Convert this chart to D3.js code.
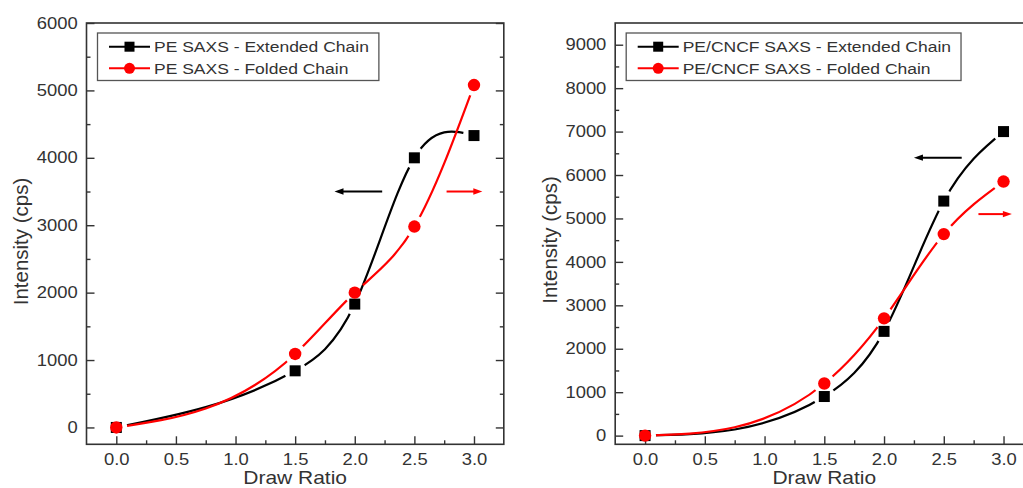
<!DOCTYPE html>
<html>
<head>
<meta charset="utf-8">
<script src="https://cdn.jsdelivr.net/npm/d3@7"></script>
<style>
  body { margin: 0; background: #fff; }
  text { font-family: "Liberation Sans", Arial, sans-serif; fill: #333; }
</style>
</head>
<body>
<svg id="chart" width="1023" height="488"></svg>
<script>
// ---- data ----
const drawRatio = [0, 1.5, 2.0, 2.5, 3.0];

const peExtended = [0, 840, 1830, 4000, 4330];
const peFolded   = [0, 1090, 2000, 2980, 5080];

const cncfExtended = [0, 900, 2400, 5400, 7000];
const cncfFolded   = [0, 1200, 2700, 4640, 5850];

const xTicks      = [0, 0.5, 1.0, 1.5, 2.0, 2.5, 3.0];
const xMinorTicks = [0.25, 0.75, 1.25, 1.75, 2.25, 2.75];
const peYTicks    = [0, 1000, 2000, 3000, 4000, 5000, 6000];
const peYMinor    = [500, 1500, 2500, 3500, 4500, 5500];
const cncfYTicks  = [0, 1000, 2000, 3000, 4000, 5000, 6000, 7000, 8000, 9000];
const cncfYMinor  = [500, 1500, 2500, 3500, 4500, 5500, 6500, 7500, 8500];

const peLegend   = ["PE SAXS - Extended Chain", "PE SAXS - Folded Chain"];
const cncfLegend = ["PE/CNCF SAXS - Extended Chain", "PE/CNCF SAXS - Folded Chain"];

// axis-hint arrows in data units: [from x, to x, y]
const peArrows   = [[2.23, 1.83, 3500], [2.77, 3.07, 3500]];
const cncfArrows = [[2.65, 2.25, 6400], [2.79, 3.07, 5100]];

const xLabel = "Draw Ratio";
const yLabel = "Intensity (cps)";

// ---- natural cubic spline in x (as a d3 curve) ----
function NaturalX(context) { this._context = context; }
NaturalX.prototype = {
  areaStart() {}, areaEnd() {},
  lineStart() { this._x = []; this._y = []; },
  point(x, y) { this._x.push(+x); this._y.push(+y); },
  lineEnd() {
    const xs = this._x, ys = this._y, n = xs.length, c = this._context;
    if (!n) return;
    c.moveTo(xs[0], ys[0]);
    if (n < 3) { for (let i = 1; i < n; i++) c.lineTo(xs[i], ys[i]); return; }
    const h = [], d = [];
    for (let i = 0; i < n - 1; i++) { h[i] = xs[i + 1] - xs[i]; d[i] = (ys[i + 1] - ys[i]) / h[i]; }
    const m = n - 2, a = [], b = [], cc = [], r = [];
    for (let k = 0; k < m; k++) {
      const i = k + 1;
      a[k] = h[i - 1]; b[k] = 2 * (h[i - 1] + h[i]); cc[k] = h[i]; r[k] = 6 * (d[i] - d[i - 1]);
    }
    for (let k = 1; k < m; k++) {
      const w = a[k] / b[k - 1];
      b[k] -= w * cc[k - 1]; r[k] -= w * r[k - 1];
    }
    const M = new Array(n).fill(0);
    for (let k = m - 1; k >= 0; k--) {
      M[k + 1] = (r[k] - (k < m - 1 ? cc[k] * M[k + 2] : 0)) / b[k];
    }
    for (let i = 0; i < n - 1; i++) {
      const s0 = d[i] - h[i] * (2 * M[i] + M[i + 1]) / 6;
      const s1 = d[i] + h[i] * (M[i] + 2 * M[i + 1]) / 6;
      c.bezierCurveTo(xs[i] + h[i] / 3, ys[i] + s0 * h[i] / 3,
                      xs[i + 1] - h[i] / 3, ys[i + 1] - s1 * h[i] / 3,
                      xs[i + 1], ys[i + 1]);
    }
  }
};
const curveNaturalX = ctx => new NaturalX(ctx);

const svg = d3.select("#chart");
const RED = "#ff0000", BLACK = "#000000";
const TICK_FONT = 16, TICK_SX = 1.15;
const LEG_FONT = 15.5, LEG_SX = 1.13;

const panels = [
  { id: "pe", left: 86.5, right: 503.8, top: 23, bottom: 444.3,
    yDomain: [-250, 6000], yTicks: peYTicks, yMinor: peYMinor,
    extended: peExtended, folded: peFolded, legend: peLegend, arrows: peArrows,
    yTitleX: 27.5, yTitleY: 241.5 },
  { id: "cncf", left: 615.2, right: 1033.4, top: 23, bottom: 444.3,
    yDomain: [-200, 9500], yTicks: cncfYTicks, yMinor: cncfYMinor,
    extended: cncfExtended, folded: cncfFolded, legend: cncfLegend, arrows: cncfArrows,
    yTitleX: 556.5, yTitleY: 240 }
];

const defs = svg.append("defs");

panels.forEach(p => {
  const x = d3.scaleLinear().domain([-0.25, 3.25]).range([p.left, p.right]);
  const y = d3.scaleLinear().domain(p.yDomain).range([p.bottom, p.top]);
  const g = svg.append("g");

  // axes (ticks point inward)
  const styleAxis = (sel) => {
    sel.select(".domain").remove();
    sel.selectAll(".tick line").attr("stroke", "#333").attr("stroke-width", 1.4);
  };
  g.append("g").attr("transform", `translate(0,${p.bottom})`)
    .call(d3.axisBottom(x).tickValues(xTicks).tickSize(-8).tickPadding(9.5).tickFormat(d3.format(".1f")))
    .call(styleAxis)
    .selectAll("text").attr("font-size", TICK_FONT).attr("fill", "#333")
    .attr("font-family", null).attr("transform", `scale(${TICK_SX},1)`);
  g.append("g").attr("transform", `translate(0,${p.bottom})`)
    .call(d3.axisBottom(x).tickValues(xMinorTicks).tickSize(-4).tickFormat(""))
    .call(styleAxis);
  g.append("g").attr("transform", `translate(${p.left},0)`)
    .call(d3.axisLeft(y).tickValues(p.yTicks).tickSize(-8).tickPadding(7.7).tickFormat(d3.format("d")))
    .call(styleAxis)
    .selectAll("text").attr("font-size", TICK_FONT).attr("fill", "#333")
    .attr("font-family", null).attr("transform", `scale(${TICK_SX},1)`);
  g.append("g").attr("transform", `translate(${p.left},0)`)
    .call(d3.axisLeft(y).tickValues(p.yMinor).tickSize(-4).tickFormat(""))
    .call(styleAxis);
  g.append("g").attr("transform", `translate(${p.right},0)`)
    .call(d3.axisRight(y).tickValues(p.yTicks).tickSize(-8).tickFormat(""))
    .call(styleAxis);
  g.append("g").attr("transform", `translate(${p.right},0)`)
    .call(d3.axisRight(y).tickValues(p.yMinor).tickSize(-4).tickFormat(""))
    .call(styleAxis);

  // frame
  g.append("rect").attr("x", p.left).attr("y", p.top)
    .attr("width", p.right - p.left).attr("height", p.bottom - p.top)
    .attr("fill", "none").attr("stroke", "#333").attr("stroke-width", 1.6);

  // axis titles
  g.append("text").attr("transform", `translate(${(p.left + p.right) / 2},484.3) scale(1.2,1)`)
    .attr("text-anchor", "middle").attr("font-size", 17.5).text(xLabel);
  g.append("text").attr("transform", `translate(${p.yTitleX},${p.yTitleY}) rotate(-90)`)
    .attr("text-anchor", "middle").attr("font-size", 20.5).text(yLabel);

  // series
  const series = [
    { key: "ext", values: p.extended, color: BLACK, shape: "square" },
    { key: "fold", values: p.folded, color: RED, shape: "circle" }
  ];
  const line = d3.line().x((d, i) => x(drawRatio[i])).y(d => y(d)).curve(curveNaturalX);

  series.forEach(s => {
    // gap around each of the series' own markers
    const maskId = `gap-${p.id}-${s.key}`;
    const mask = defs.append("mask").attr("id", maskId).attr("maskUnits", "userSpaceOnUse")
      .attr("x", 0).attr("y", 0).attr("width", 1023).attr("height", 488);
    mask.append("rect").attr("width", 1023).attr("height", 488).attr("fill", "#fff");
    mask.selectAll("circle").data(s.values).join("circle")
      .attr("cx", (d, i) => x(drawRatio[i])).attr("cy", d => y(d)).attr("r", 11).attr("fill", "#000");

    g.append("path").datum(s.values).attr("d", line)
      .attr("fill", "none").attr("stroke", s.color).attr("stroke-width", 2.2)
      .attr("mask", `url(#${maskId})`);
  });

  series.forEach(s => {
    if (s.shape === "square") {
      g.selectAll(null).data(s.values).join("rect")
        .attr("x", (d, i) => x(drawRatio[i]) - 5.5).attr("y", d => y(d) - 5.5)
        .attr("width", 11).attr("height", 11).attr("fill", s.color);
    } else {
      g.selectAll(null).data(s.values).join("circle")
        .attr("cx", (d, i) => x(drawRatio[i])).attr("cy", d => y(d))
        .attr("r", 6.2).attr("fill", s.color);
    }
  });

  // axis-hint arrows
  const arrowColors = [BLACK, RED];
  p.arrows.forEach((a, k) => {
    const x1 = x(a[0]), x2 = x(a[1]), yy = y(a[2]);
    const dir = Math.sign(x2 - x1);
    g.append("line").attr("x1", x1).attr("x2", x2 - dir * 6).attr("y1", yy).attr("y2", yy)
      .attr("stroke", arrowColors[k]).attr("stroke-width", 2);
    g.append("path")
      .attr("d", `M${x2},${yy} L${x2 - dir * 9},${yy - 3.2} L${x2 - dir * 9},${yy + 3.2} Z`)
      .attr("fill", arrowColors[k]);
  });

  // legend
  const lg = g.append("g");
  const lx = p.left + 11, ly = p.top + 10;
  const rows = [p.top + 23.7, p.top + 45.3];
  const box = lg.append("rect").attr("x", lx).attr("y", ly).attr("height", 47.5)
    .attr("fill", "#fff").attr("stroke", "#555").attr("stroke-width", 1.3);
  let maxW = 0;
  series.forEach((s, k) => {
    const ry = rows[k];
    lg.append("line").attr("x1", p.left + 22.5).attr("x2", p.left + 63.5)
      .attr("y1", ry).attr("y2", ry).attr("stroke", s.color).attr("stroke-width", 2);
    if (s.shape === "square") {
      lg.append("rect").attr("x", p.left + 43 - 5).attr("y", ry - 5)
        .attr("width", 10).attr("height", 10).attr("fill", s.color);
    } else {
      lg.append("circle").attr("cx", p.left + 43).attr("cy", ry).attr("r", 5.5).attr("fill", s.color);
    }
    const t = lg.append("text")
      .attr("transform", `translate(${p.left + 67.5},${ry}) scale(${LEG_SX},1)`)
      .attr("dy", "0.36em").attr("font-size", LEG_FONT).attr("fill", "#222").text(p.legend[k]);
    maxW = Math.max(maxW, t.node().getComputedTextLength() * LEG_SX);
  });
  box.attr("width", (p.left + 67.5 + maxW + 10) - lx);
});
</script>
</body>
</html>
